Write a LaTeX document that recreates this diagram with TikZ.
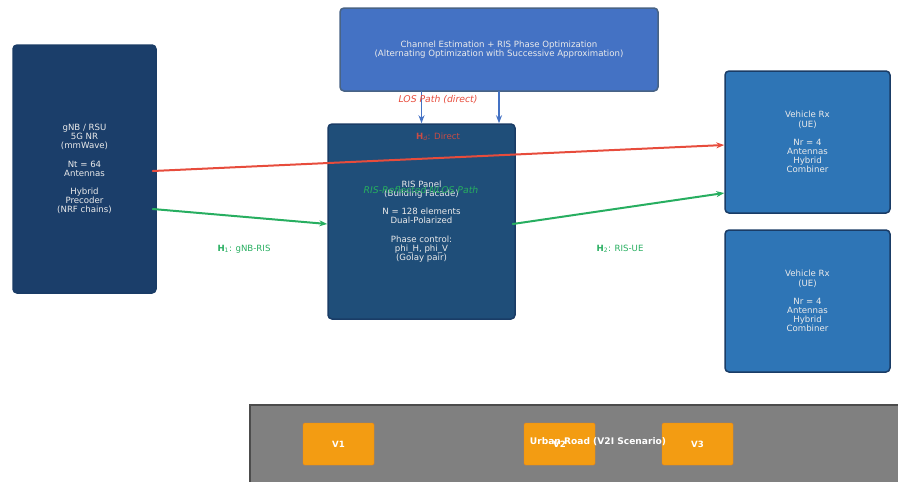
\documentclass[tikz,border=0pt]{standalone}
\usepackage{fontspec}
\setmainfont{DejaVu Sans}
\usetikzlibrary{arrows.meta,calc}
\definecolor{gnbblue}{HTML}{1B3E6A}
\definecolor{risblue}{HTML}{1F4E79}
\definecolor{optblue}{HTML}{4472C4}
\definecolor{ueblue}{HTML}{2E75B6}
\definecolor{edgeblue}{HTML}{1A3C66}
\definecolor{losred}{HTML}{E74C3C}
\definecolor{risgreen}{HTML}{27AE60}
\definecolor{carorange}{HTML}{F39C12}
\definecolor{roadgray}{HTML}{808080}

\begin{document}
\begin{tikzpicture}[x=1pt, y=-1pt, >={Stealth[length=8pt,width=6pt]}, line cap=round,
	font=\fontsize{8.6}{9.1}\selectfont,
	block/.style={draw=edgeblue, line width=1.5pt, rounded corners=4pt,
		text=white!92!black, align=center, inner sep=0pt},
	link/.style={->, line width=2pt},
	pathlabel/.style={font=\fontsize{9.3}{10}\selectfont\itshape},
	car/.style={fill=carorange, draw=carorange!85!red, rounded corners=1.5pt,
		minimum width=71, minimum height=42, text=white,
		font=\fontsize{8.6}{9}\selectfont\bfseries}]

	\useasboundingbox (0,0) rectangle (898,482);

	% ---- strada urbana ----
	\draw[fill=roadgray, draw=black!70, line width=1.2pt] (250,405) rectangle (902,486);
	\foreach \name/\x in {V1/338.5, V2/559.5, V3/697.5}
	\node[car] (\name) at (\x,444) {\name};
	\node[text=white, font=\fontsize{9.1}{10}\selectfont\bfseries] (roadlabel) at (598,442) {Urban Road (V2I Scenario)};

	% ---- blocchi principali ----
	\node[block, fill=gnbblue, minimum width=143, minimum height=248] (gnb) at (84.5,169)
	{gNB / RSU\\5G NR\\(mmWave)\\[9.1pt]Nt = 64\\Antennas\\[9.1pt]Hybrid\\Precoder\\(NRF chains)};
	\node[block, fill=optblue, draw=edgeblue!80, minimum width=318, minimum height=83] (opt) at (499,49.5)
	{Channel Estimation + RIS Phase Optimization\\(Alternating Optimization with Successive Approximation)};
	\node[block, fill=risblue, minimum width=187, minimum height=195] (ris) at (421.5,221.5)
	{RIS Panel\\(Building Facade)\\[9.1pt]N = 128 elements\\Dual-Polarized\\[9.1pt]Phase control:\\phi\_H, phi\_V\\(Golay pair)};

	% ---- ricevitori (veicoli) ----
	\foreach \ue/\y in {veha/142, vehb/301}
	\node[block, fill=ueblue, minimum width=165, minimum height=142] (\ue) at (807.5,\y)
	{Vehicle Rx\\(UE)\\[9.1pt]Nr = 4\\Antennas\\Hybrid\\Combiner};

	% ---- collegamenti ----
	\draw[link, losred] ([xshift=-4pt,yshift=-2pt]gnb.east) -- ([yshift=-3pt]veha.west);
	\draw[link, risgreen] ([xshift=-4pt,yshift=-40pt]gnb.east) -- ([yshift=-2.5pt]ris.west);
	\draw[link, risgreen] ([xshift=-3pt,yshift=-2.5pt]ris.east) -- ([yshift=-51pt]veha.west);
	\draw[->, optblue, line width=1.5pt] (ris.north |- opt.south) -- (ris.north);
	\draw[->, optblue, line width=1.5pt] (opt.south) -- (opt.south |- ris.north);

	% ---- etichette ----
	\node[pathlabel, text=losred] (loslabel) at (438,100) {LOS Path (direct)};
	\node[text=losred!85!risblue] (hdlabel) at (438,137) {\textbf{H}\textsubscript{\textit{d}}: Direct};
	\node[pathlabel, text=risgreen] (nloslabel) at (421,190) {RIS-Reflected NLOS Path};
	\node[text=risgreen] (honelabel) at (244,249) {\textbf{H}\textsubscript{1}: gNB-RIS};
	\node[text=risgreen] (htwolabel) at (620,249) {\textbf{H}\textsubscript{2}: RIS-UE};

\end{tikzpicture}
\end{document}
